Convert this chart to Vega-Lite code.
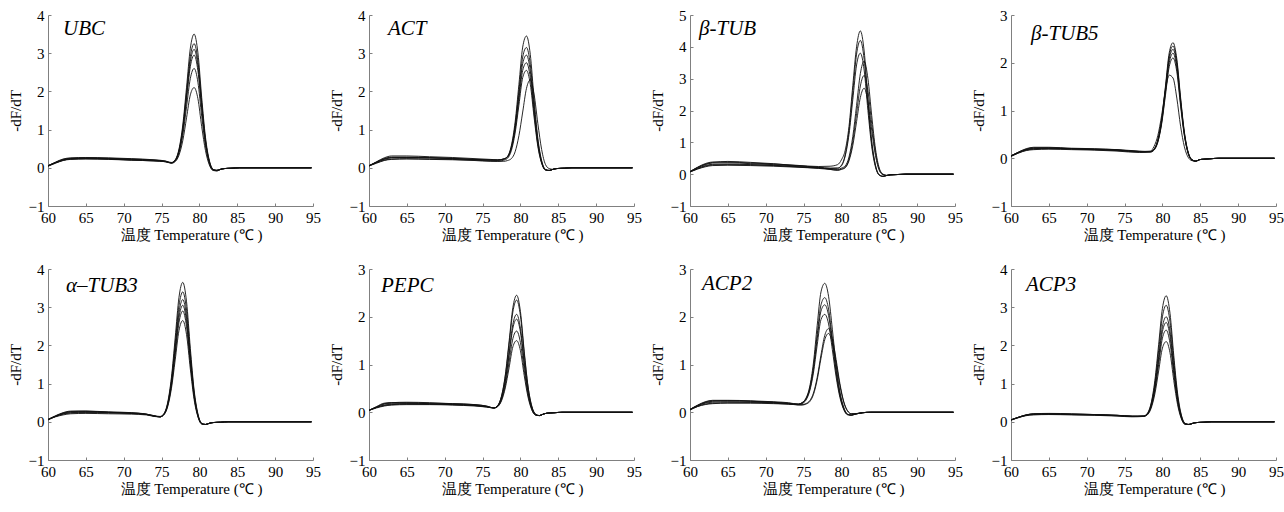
{
"$schema": "https://vega.github.io/schema/vega-lite/v6.json",
"background": "white",
"padding": {"left": 8, "top": 8, "right": 5, "bottom": 5},
"data": {"values": [
{"g":"UBC","t":60,"a":0.05,"b":0.05,"c":0.06,"d":0.04,"e":0.05,"f":0.05},
{"g":"UBC","t":61,"a":0.14,"b":0.15,"c":0.13,"d":0.12,"e":0.14,"f":0.13},
{"g":"UBC","t":62,"a":0.21,"b":0.23,"c":0.2,"d":0.19,"e":0.22,"f":0.2},
{"g":"UBC","t":63,"a":0.24,"b":0.26,"c":0.23,"d":0.22,"e":0.25,"f":0.23},
{"g":"UBC","t":65,"a":0.25,"b":0.27,"c":0.24,"d":0.23,"e":0.26,"f":0.24},
{"g":"UBC","t":68,"a":0.24,"b":0.26,"c":0.23,"d":0.22,"e":0.25,"f":0.23},
{"g":"UBC","t":71,"a":0.22,"b":0.24,"c":0.21,"d":0.2,"e":0.23,"f":0.2},
{"g":"UBC","t":74,"a":0.2,"b":0.21,"c":0.19,"d":0.18,"e":0.2,"f":0.18},
{"g":"UBC","t":75.5,"a":0.17,"b":0.18,"c":0.16,"d":0.16,"e":0.17,"f":0.16},
{"g":"UBC","t":76.3,"a":0.14,"b":0.13,"c":0.13,"d":0.13,"e":0.13,"f":0.12},
{"g":"UBC","t":76.8,"a":0.21,"b":0.2,"c":0.19,"d":0.19,"e":0.18,"f":0.16},
{"g":"UBC","t":77.3,"a":0.49,"b":0.46,"c":0.44,"d":0.42,"e":0.39,"f":0.33},
{"g":"UBC","t":77.8,"a":1.12,"b":1.04,"c":1.0,"d":0.96,"e":0.85,"f":0.71},
{"g":"UBC","t":78.3,"a":2.11,"b":1.97,"c":1.88,"d":1.8,"e":1.6,"f":1.31},
{"g":"UBC","t":78.8,"a":3.13,"b":2.91,"c":2.78,"d":2.65,"e":2.34,"f":1.91},
{"g":"UBC","t":79.3,"a":3.5,"b":3.25,"c":3.1,"d":2.95,"e":2.6,"f":2.1},
{"g":"UBC","t":79.8,"a":3.01,"b":2.8,"c":2.67,"d":2.54,"e":2.24,"f":1.81},
{"g":"UBC","t":80.3,"a":1.84,"b":1.71,"c":1.62,"d":1.54,"e":1.35,"f":1.08},
{"g":"UBC","t":80.8,"a":0.8,"b":0.73,"c":0.7,"d":0.66,"e":0.57,"f":0.45},
{"g":"UBC","t":81.3,"a":0.2,"b":0.18,"c":0.16,"d":0.15,"e":0.12,"f":0.08},
{"g":"UBC","t":81.8,"a":-0.04,"b":-0.04,"c":-0.05,"d":-0.05,"e":-0.06,"f":-0.07},
{"g":"UBC","t":82.3,"a":-0.07,"b":-0.08,"c":-0.07,"d":-0.06,"e":-0.07,"f":-0.08},
{"g":"UBC","t":82.8,"a":-0.04,"b":-0.04,"c":-0.04,"d":-0.04,"e":-0.04,"f":-0.04},
{"g":"UBC","t":83.3,"a":-0.02,"b":-0.02,"c":-0.02,"d":-0.02,"e":-0.02,"f":-0.02},
{"g":"UBC","t":84.3,"a":-0.01,"b":-0.01,"c":-0.01,"d":-0.01,"e":-0.01,"f":-0.01},
{"g":"UBC","t":85.3,"a":0,"b":0,"c":0,"d":0,"e":0,"f":0},
{"g":"UBC","t":94.8,"a":0,"b":0,"c":0,"d":0,"e":0,"f":0},

{"g":"ACT","t":60,"a":0.05,"b":0.05,"c":0.05,"d":0.06,"e":0.05,"f":0.05},
{"g":"ACT","t":61,"a":0.16,"b":0.15,"c":0.14,"d":0.15,"e":0.13,"f":0.12},
{"g":"ACT","t":62,"a":0.26,"b":0.24,"c":0.22,"d":0.23,"e":0.2,"f":0.19},
{"g":"ACT","t":63,"a":0.31,"b":0.28,"c":0.26,"d":0.27,"e":0.23,"f":0.22},
{"g":"ACT","t":65,"a":0.31,"b":0.28,"c":0.27,"d":0.27,"e":0.24,"f":0.23},
{"g":"ACT","t":68,"a":0.29,"b":0.27,"c":0.26,"d":0.26,"e":0.23,"f":0.22},
{"g":"ACT","t":71,"a":0.27,"b":0.25,"c":0.24,"d":0.24,"e":0.22,"f":0.21},
{"g":"ACT","t":74,"a":0.24,"b":0.22,"c":0.22,"d":0.21,"e":0.2,"f":0.19},
{"g":"ACT","t":76,"a":0.22,"b":0.21,"c":0.2,"d":0.2,"e":0.18,"f":0.17},
{"g":"ACT","t":77,"a":0.21,"b":0.2,"c":0.2,"d":0.2,"e":0.17,"f":0.17},
{"g":"ACT","t":77.8,"a":0.23,"b":0.23,"c":0.23,"d":0.23,"e":0.2,"f":0.17},
{"g":"ACT","t":78.3,"a":0.3,"b":0.29,"c":0.29,"d":0.28,"e":0.25,"f":0.19},
{"g":"ACT","t":78.8,"a":0.58,"b":0.55,"c":0.52,"d":0.5,"e":0.45,"f":0.24},
{"g":"ACT","t":79.3,"a":1.2,"b":1.11,"c":1.06,"d":1.0,"e":0.91,"f":0.42},
{"g":"ACT","t":79.8,"a":2.18,"b":2.01,"c":1.9,"d":1.78,"e":1.64,"f":0.84},
{"g":"ACT","t":80.3,"a":3.16,"b":2.9,"c":2.73,"d":2.55,"e":2.36,"f":1.46},
{"g":"ACT","t":80.8,"a":3.45,"b":3.15,"c":2.95,"d":2.75,"e":2.55,"f":2.08},
{"g":"ACT","t":81.3,"a":2.97,"b":2.71,"c":2.54,"d":2.37,"e":2.19,"f":2.3},
{"g":"ACT","t":81.8,"a":1.81,"b":1.65,"c":1.54,"d":1.44,"e":1.33,"f":1.93},
{"g":"ACT","t":82.3,"a":0.78,"b":0.71,"c":0.66,"d":0.61,"e":0.56,"f":1.16},
{"g":"ACT","t":82.8,"a":0.19,"b":0.17,"c":0.15,"d":0.13,"e":0.12,"f":0.48},
{"g":"ACT","t":83.3,"a":-0.04,"b":-0.05,"c":-0.05,"d":-0.05,"e":-0.06,"f":0.09},
{"g":"ACT","t":83.8,"a":-0.07,"b":-0.07,"c":-0.07,"d":-0.07,"e":-0.07,"f":-0.02},
{"g":"ACT","t":84.3,"a":-0.04,"b":-0.04,"c":-0.04,"d":-0.04,"e":-0.04,"f":-0.04},
{"g":"ACT","t":84.8,"a":-0.02,"b":-0.02,"c":-0.02,"d":-0.02,"e":-0.02,"f":-0.02},
{"g":"ACT","t":85.8,"a":-0.01,"b":-0.01,"c":-0.01,"d":-0.01,"e":-0.01,"f":-0.01},
{"g":"ACT","t":86.8,"a":0,"b":0,"c":0,"d":0,"e":0,"f":0},
{"g":"ACT","t":94.8,"a":0,"b":0,"c":0,"d":0,"e":0,"f":0},

{"g":"BTUB","t":60,"a":0.08,"b":0.08,"c":0.08,"d":0.07,"e":0.07,"f":0.08},
{"g":"BTUB","t":61,"a":0.22,"b":0.2,"c":0.18,"d":0.17,"e":0.16,"f":0.21},
{"g":"BTUB","t":62,"a":0.33,"b":0.3,"c":0.27,"d":0.25,"e":0.23,"f":0.31},
{"g":"BTUB","t":63,"a":0.38,"b":0.35,"c":0.31,"d":0.29,"e":0.27,"f":0.37},
{"g":"BTUB","t":65,"a":0.38,"b":0.36,"c":0.32,"d":0.3,"e":0.28,"f":0.4},
{"g":"BTUB","t":68,"a":0.35,"b":0.33,"c":0.3,"d":0.29,"e":0.27,"f":0.37},
{"g":"BTUB","t":71,"a":0.32,"b":0.3,"c":0.28,"d":0.27,"e":0.25,"f":0.33},
{"g":"BTUB","t":74,"a":0.28,"b":0.26,"c":0.24,"d":0.23,"e":0.22,"f":0.27},
{"g":"BTUB","t":77,"a":0.24,"b":0.22,"c":0.2,"d":0.19,"e":0.18,"f":0.21},
{"g":"BTUB","t":78.5,"a":0.25,"b":0.19,"c":0.18,"d":0.17,"e":0.15,"f":0.15},
{"g":"BTUB","t":79.5,"a":0.3,"b":0.19,"c":0.19,"d":0.15,"e":0.13,"f":0.12},
{"g":"BTUB","t":80,"a":0.45,"b":0.28,"c":0.26,"d":0.19,"e":0.16,"f":0.15},
{"g":"BTUB","t":80.5,"a":0.75,"b":0.61,"c":0.57,"d":0.26,"e":0.22,"f":0.2},
{"g":"BTUB","t":81,"a":1.5,"b":1.37,"c":1.25,"d":0.54,"e":0.47,"f":0.42},
{"g":"BTUB","t":81.5,"a":2.78,"b":2.57,"c":2.34,"d":1.18,"e":1.03,"f":0.9},
{"g":"BTUB","t":82,"a":4.0,"b":3.77,"c":3.43,"d":2.16,"e":1.9,"f":1.65},
{"g":"BTUB","t":82.5,"a":4.5,"b":4.2,"c":3.8,"d":3.16,"e":2.77,"f":2.41},
{"g":"BTUB","t":83,"a":3.87,"b":3.61,"c":3.27,"d":3.55,"e":3.1,"f":2.7},
{"g":"BTUB","t":83.5,"a":2.38,"b":2.22,"c":2.0,"d":3.0,"e":2.62,"f":2.27},
{"g":"BTUB","t":84,"a":1.05,"b":0.97,"c":0.87,"d":1.84,"e":1.59,"f":1.38},
{"g":"BTUB","t":84.5,"a":0.28,"b":0.26,"c":0.22,"d":0.79,"e":0.68,"f":0.58},
{"g":"BTUB","t":85,"a":-0.02,"b":-0.03,"c":-0.03,"d":0.19,"e":0.15,"f":0.12},
{"g":"BTUB","t":85.5,"a":-0.07,"b":-0.07,"c":-0.07,"d":0,"e":-0.01,"f":-0.02},
{"g":"BTUB","t":86,"a":-0.04,"b":-0.04,"c":-0.04,"d":-0.04,"e":-0.04,"f":-0.04},
{"g":"BTUB","t":86.5,"a":-0.02,"b":-0.02,"c":-0.02,"d":-0.02,"e":-0.02,"f":-0.02},
{"g":"BTUB","t":87.5,"a":-0.01,"b":-0.01,"c":-0.01,"d":-0.01,"e":-0.01,"f":-0.01},
{"g":"BTUB","t":88.5,"a":0,"b":0,"c":0,"d":0,"e":0,"f":0},
{"g":"BTUB","t":94.8,"a":0,"b":0,"c":0,"d":0,"e":0,"f":0},

{"g":"BTUB5","t":60,"a":0.05,"b":0.05,"c":0.04,"d":0.05,"e":0.04,"f":0.05},
{"g":"BTUB5","t":61,"a":0.13,"b":0.12,"c":0.11,"d":0.12,"e":0.11,"f":0.13},
{"g":"BTUB5","t":62,"a":0.19,"b":0.18,"c":0.17,"d":0.18,"e":0.16,"f":0.2},
{"g":"BTUB5","t":63,"a":0.22,"b":0.2,"c":0.19,"d":0.21,"e":0.18,"f":0.23},
{"g":"BTUB5","t":65,"a":0.22,"b":0.21,"c":0.2,"d":0.21,"e":0.19,"f":0.23},
{"g":"BTUB5","t":68,"a":0.2,"b":0.2,"c":0.19,"d":0.2,"e":0.18,"f":0.21},
{"g":"BTUB5","t":71,"a":0.19,"b":0.18,"c":0.18,"d":0.19,"e":0.17,"f":0.2},
{"g":"BTUB5","t":74,"a":0.18,"b":0.17,"c":0.16,"d":0.17,"e":0.15,"f":0.18},
{"g":"BTUB5","t":77,"a":0.15,"b":0.14,"c":0.13,"d":0.14,"e":0.12,"f":0.14},
{"g":"BTUB5","t":78.4,"a":0.14,"b":0.14,"c":0.14,"d":0.13,"e":0.13,"f":0.15},
{"g":"BTUB5","t":78.9,"a":0.19,"b":0.19,"c":0.19,"d":0.18,"e":0.17,"f":0.25},
{"g":"BTUB5","t":79.4,"a":0.39,"b":0.38,"c":0.37,"d":0.35,"e":0.34,"f":0.48},
{"g":"BTUB5","t":79.9,"a":0.82,"b":0.8,"c":0.78,"d":0.75,"e":0.72,"f":0.9},
{"g":"BTUB5","t":80.4,"a":1.51,"b":1.47,"c":1.43,"d":1.38,"e":1.32,"f":1.42},
{"g":"BTUB5","t":80.9,"a":2.21,"b":2.14,"c":2.08,"d":2.0,"e":1.92,"f":1.74},
{"g":"BTUB5","t":81.4,"a":2.42,"b":2.35,"c":2.28,"d":2.2,"e":2.1,"f":1.68},
{"g":"BTUB5","t":81.9,"a":2.08,"b":2.02,"c":1.96,"d":1.89,"e":1.81,"f":1.26},
{"g":"BTUB5","t":82.4,"a":1.27,"b":1.23,"c":1.19,"d":1.15,"e":1.09,"f":0.67},
{"g":"BTUB5","t":82.9,"a":0.55,"b":0.53,"c":0.51,"d":0.49,"e":0.47,"f":0.24},
{"g":"BTUB5","t":83.4,"a":0.13,"b":0.12,"c":0.11,"d":0.11,"e":0.1,"f":0.02},
{"g":"BTUB5","t":83.9,"a":-0.03,"b":-0.03,"c":-0.03,"d":-0.04,"e":-0.04,"f":-0.05},
{"g":"BTUB5","t":84.4,"a":-0.06,"b":-0.06,"c":-0.06,"d":-0.06,"e":-0.06,"f":-0.06},
{"g":"BTUB5","t":84.9,"a":-0.03,"b":-0.03,"c":-0.03,"d":-0.03,"e":-0.03,"f":-0.03},
{"g":"BTUB5","t":85.4,"a":-0.02,"b":-0.02,"c":-0.02,"d":-0.02,"e":-0.02,"f":-0.02},
{"g":"BTUB5","t":86.4,"a":-0.01,"b":-0.01,"c":-0.01,"d":-0.01,"e":-0.01,"f":-0.01},
{"g":"BTUB5","t":87.4,"a":0,"b":0,"c":0,"d":0,"e":0,"f":0},
{"g":"BTUB5","t":94.8,"a":0,"b":0,"c":0,"d":0,"e":0,"f":0},

{"g":"ATUB3","t":60,"a":0.06,"b":0.06,"c":0.05,"d":0.06,"e":0.05,"f":0.06},
{"g":"ATUB3","t":61,"a":0.16,"b":0.15,"c":0.14,"d":0.13,"e":0.14,"f":0.15},
{"g":"ATUB3","t":62,"a":0.24,"b":0.22,"c":0.2,"d":0.18,"e":0.21,"f":0.23},
{"g":"ATUB3","t":63,"a":0.28,"b":0.26,"c":0.23,"d":0.21,"e":0.24,"f":0.27},
{"g":"ATUB3","t":65,"a":0.28,"b":0.27,"c":0.24,"d":0.22,"e":0.25,"f":0.28},
{"g":"ATUB3","t":68,"a":0.25,"b":0.25,"c":0.23,"d":0.21,"e":0.24,"f":0.26},
{"g":"ATUB3","t":71,"a":0.23,"b":0.22,"c":0.22,"d":0.2,"e":0.23,"f":0.24},
{"g":"ATUB3","t":73,"a":0.2,"b":0.19,"c":0.19,"d":0.18,"e":0.2,"f":0.2},
{"g":"ATUB3","t":74,"a":0.16,"b":0.15,"c":0.15,"d":0.14,"e":0.16,"f":0.15},
{"g":"ATUB3","t":74.8,"a":0.14,"b":0.13,"c":0.13,"d":0.13,"e":0.13,"f":0.13},
{"g":"ATUB3","t":75.3,"a":0.21,"b":0.2,"c":0.2,"d":0.19,"e":0.19,"f":0.18},
{"g":"ATUB3","t":75.8,"a":0.5,"b":0.47,"c":0.45,"d":0.44,"e":0.42,"f":0.39},
{"g":"ATUB3","t":76.3,"a":1.16,"b":1.09,"c":1.03,"d":0.98,"e":0.94,"f":0.87},
{"g":"ATUB3","t":76.8,"a":2.2,"b":2.06,"c":1.94,"d":1.85,"e":1.77,"f":1.62},
{"g":"ATUB3","t":77.3,"a":3.26,"b":3.04,"c":2.86,"d":2.73,"e":2.6,"f":2.39},
{"g":"ATUB3","t":77.8,"a":3.65,"b":3.4,"c":3.2,"d":3.05,"e":2.9,"f":2.65},
{"g":"ATUB3","t":78.3,"a":3.14,"b":2.92,"c":2.75,"d":2.62,"e":2.49,"f":2.28},
{"g":"ATUB3","t":78.8,"a":1.92,"b":1.79,"c":1.68,"d":1.6,"e":1.52,"f":1.38},
{"g":"ATUB3","t":79.3,"a":0.83,"b":0.77,"c":0.72,"d":0.68,"e":0.65,"f":0.58},
{"g":"ATUB3","t":79.8,"a":0.21,"b":0.19,"c":0.17,"d":0.16,"e":0.15,"f":0.13},
{"g":"ATUB3","t":80.3,"a":-0.04,"b":-0.04,"c":-0.05,"d":-0.05,"e":-0.05,"f":-0.06},
{"g":"ATUB3","t":80.8,"a":-0.07,"b":-0.07,"c":-0.07,"d":-0.07,"e":-0.07,"f":-0.07},
{"g":"ATUB3","t":81.3,"a":-0.04,"b":-0.04,"c":-0.04,"d":-0.04,"e":-0.04,"f":-0.04},
{"g":"ATUB3","t":81.8,"a":-0.02,"b":-0.02,"c":-0.02,"d":-0.02,"e":-0.02,"f":-0.02},
{"g":"ATUB3","t":82.8,"a":-0.01,"b":-0.01,"c":-0.01,"d":-0.01,"e":-0.01,"f":-0.01},
{"g":"ATUB3","t":83.8,"a":0,"b":0,"c":0,"d":0,"e":0,"f":0},
{"g":"ATUB3","t":94.8,"a":0,"b":0,"c":0,"d":0,"e":0,"f":0},

{"g":"PEPC","t":60,"a":0.04,"b":0.04,"c":0.04,"d":0.04,"e":0.04,"f":0.04},
{"g":"PEPC","t":61,"a":0.12,"b":0.11,"c":0.1,"d":0.09,"e":0.1,"f":0.11},
{"g":"PEPC","t":62,"a":0.19,"b":0.17,"c":0.15,"d":0.13,"e":0.14,"f":0.18},
{"g":"PEPC","t":63,"a":0.2,"b":0.19,"c":0.17,"d":0.15,"e":0.16,"f":0.2},
{"g":"PEPC","t":65,"a":0.2,"b":0.19,"c":0.18,"d":0.16,"e":0.17,"f":0.21},
{"g":"PEPC","t":68,"a":0.19,"b":0.18,"c":0.17,"d":0.16,"e":0.17,"f":0.2},
{"g":"PEPC","t":71,"a":0.18,"b":0.17,"c":0.16,"d":0.15,"e":0.16,"f":0.18},
{"g":"PEPC","t":74,"a":0.16,"b":0.15,"c":0.14,"d":0.13,"e":0.14,"f":0.16},
{"g":"PEPC","t":75.5,"a":0.13,"b":0.12,"c":0.12,"d":0.11,"e":0.11,"f":0.13},
{"g":"PEPC","t":76.5,"a":0.09,"b":0.09,"c":0.09,"d":0.09,"e":0.09,"f":0.09},
{"g":"PEPC","t":77,"a":0.14,"b":0.14,"c":0.13,"d":0.13,"e":0.12,"f":0.12},
{"g":"PEPC","t":77.5,"a":0.34,"b":0.33,"c":0.3,"d":0.28,"e":0.26,"f":0.24},
{"g":"PEPC","t":78,"a":0.78,"b":0.75,"c":0.66,"d":0.64,"e":0.56,"f":0.51},
{"g":"PEPC","t":78.5,"a":1.48,"b":1.42,"c":1.25,"d":1.19,"e":1.05,"f":0.93},
{"g":"PEPC","t":79,"a":2.19,"b":2.1,"c":1.84,"d":1.76,"e":1.54,"f":1.37},
{"g":"PEPC","t":79.5,"a":2.45,"b":2.35,"c":2.05,"d":1.95,"e":1.7,"f":1.5},
{"g":"PEPC","t":80,"a":2.11,"b":2.02,"c":1.76,"d":1.68,"e":1.46,"f":1.29},
{"g":"PEPC","t":80.5,"a":1.28,"b":1.23,"c":1.07,"d":1.01,"e":0.88,"f":0.77},
{"g":"PEPC","t":81,"a":0.55,"b":0.53,"c":0.45,"d":0.43,"e":0.37,"f":0.32},
{"g":"PEPC","t":81.5,"a":0.13,"b":0.12,"c":0.09,"d":0.09,"e":0.06,"f":0.05},
{"g":"PEPC","t":82,"a":-0.04,"b":-0.04,"c":-0.05,"d":-0.05,"e":-0.06,"f":-0.06},
{"g":"PEPC","t":82.5,"a":-0.07,"b":-0.07,"c":-0.07,"d":-0.07,"e":-0.07,"f":-0.07},
{"g":"PEPC","t":83,"a":-0.04,"b":-0.04,"c":-0.04,"d":-0.04,"e":-0.04,"f":-0.04},
{"g":"PEPC","t":83.5,"a":-0.02,"b":-0.02,"c":-0.02,"d":-0.02,"e":-0.02,"f":-0.02},
{"g":"PEPC","t":84.5,"a":-0.01,"b":-0.01,"c":-0.01,"d":-0.01,"e":-0.01,"f":-0.01},
{"g":"PEPC","t":85.5,"a":0,"b":0,"c":0,"d":0,"e":0,"f":0},
{"g":"PEPC","t":94.8,"a":0,"b":0,"c":0,"d":0,"e":0,"f":0},

{"g":"ACP2","t":60,"a":0.06,"b":0.06,"c":0.05,"d":0.05,"e":0.05,"f":0.06},
{"g":"ACP2","t":61,"a":0.15,"b":0.14,"c":0.13,"d":0.12,"e":0.12,"f":0.14},
{"g":"ACP2","t":62,"a":0.22,"b":0.2,"c":0.19,"d":0.17,"e":0.16,"f":0.21},
{"g":"ACP2","t":63,"a":0.25,"b":0.23,"c":0.21,"d":0.19,"e":0.18,"f":0.24},
{"g":"ACP2","t":65,"a":0.25,"b":0.24,"c":0.22,"d":0.2,"e":0.19,"f":0.24},
{"g":"ACP2","t":68,"a":0.24,"b":0.23,"c":0.21,"d":0.2,"e":0.19,"f":0.23},
{"g":"ACP2","t":71,"a":0.22,"b":0.21,"c":0.2,"d":0.19,"e":0.18,"f":0.21},
{"g":"ACP2","t":73,"a":0.2,"b":0.19,"c":0.18,"d":0.17,"e":0.17,"f":0.18},
{"g":"ACP2","t":74.3,"a":0.17,"b":0.17,"c":0.17,"d":0.16,"e":0.16,"f":0.15},
{"g":"ACP2","t":74.8,"a":0.2,"b":0.2,"c":0.19,"d":0.18,"e":0.16,"f":0.15},
{"g":"ACP2","t":75.3,"a":0.29,"b":0.28,"c":0.27,"d":0.25,"e":0.18,"f":0.17},
{"g":"ACP2","t":75.8,"a":0.53,"b":0.49,"c":0.47,"d":0.44,"e":0.24,"f":0.22},
{"g":"ACP2","t":76.3,"a":1.03,"b":0.94,"c":0.89,"d":0.82,"e":0.4,"f":0.37},
{"g":"ACP2","t":76.8,"a":1.82,"b":1.63,"c":1.54,"d":1.41,"e":0.73,"f":0.68},
{"g":"ACP2","t":77.3,"a":2.52,"b":2.25,"c":2.12,"d":1.94,"e":1.2,"f":1.13},
{"g":"ACP2","t":77.8,"a":2.7,"b":2.4,"c":2.25,"d":2.05,"e":1.61,"f":1.52},
{"g":"ACP2","t":78.3,"a":2.43,"b":2.16,"c":2.03,"d":1.85,"e":1.75,"f":1.65},
{"g":"ACP2","t":78.8,"a":1.74,"b":1.54,"c":1.45,"d":1.31,"e":1.54,"f":1.45},
{"g":"ACP2","t":79.3,"a":0.99,"b":0.88,"c":0.82,"d":0.74,"e":1.1,"f":1.03},
{"g":"ACP2","t":79.8,"a":0.43,"b":0.38,"c":0.35,"d":0.31,"e":0.6,"f":0.56},
{"g":"ACP2","t":80.3,"a":0.11,"b":0.08,"c":0.07,"d":0.06,"e":0.23,"f":0.21},
{"g":"ACP2","t":80.8,"a":-0.04,"b":-0.04,"c":-0.05,"d":-0.05,"e":0.03,"f":0.03},
{"g":"ACP2","t":81.3,"a":-0.06,"b":-0.06,"c":-0.06,"d":-0.06,"e":-0.03,"f":-0.03},
{"g":"ACP2","t":81.8,"a":-0.04,"b":-0.04,"c":-0.04,"d":-0.04,"e":-0.03,"f":-0.03},
{"g":"ACP2","t":82.8,"a":-0.01,"b":-0.01,"c":-0.01,"d":-0.01,"e":-0.01,"f":-0.01},
{"g":"ACP2","t":83.8,"a":0,"b":0,"c":0,"d":0,"e":0,"f":0},
{"g":"ACP2","t":94.8,"a":0,"b":0,"c":0,"d":0,"e":0,"f":0},

{"g":"ACP3","t":60,"a":0.05,"b":0.05,"c":0.05,"d":0.05,"e":0.04,"f":0.05},
{"g":"ACP3","t":61,"a":0.12,"b":0.12,"c":0.11,"d":0.12,"e":0.11,"f":0.12},
{"g":"ACP3","t":62,"a":0.18,"b":0.17,"c":0.17,"d":0.18,"e":0.16,"f":0.18},
{"g":"ACP3","t":63,"a":0.21,"b":0.2,"c":0.19,"d":0.2,"e":0.18,"f":0.21},
{"g":"ACP3","t":65,"a":0.21,"b":0.2,"c":0.2,"d":0.21,"e":0.19,"f":0.22},
{"g":"ACP3","t":68,"a":0.2,"b":0.19,"c":0.19,"d":0.2,"e":0.18,"f":0.21},
{"g":"ACP3","t":71,"a":0.19,"b":0.18,"c":0.18,"d":0.19,"e":0.17,"f":0.19},
{"g":"ACP3","t":74,"a":0.17,"b":0.16,"c":0.16,"d":0.17,"e":0.15,"f":0.17},
{"g":"ACP3","t":76,"a":0.15,"b":0.14,"c":0.14,"d":0.14,"e":0.13,"f":0.15},
{"g":"ACP3","t":77.5,"a":0.15,"b":0.15,"c":0.15,"d":0.15,"e":0.14,"f":0.14},
{"g":"ACP3","t":78,"a":0.22,"b":0.21,"c":0.2,"d":0.2,"e":0.19,"f":0.18},
{"g":"ACP3","t":78.5,"a":0.48,"b":0.46,"c":0.42,"d":0.41,"e":0.38,"f":0.35},
{"g":"ACP3","t":79,"a":1.08,"b":1.0,"c":0.92,"d":0.87,"e":0.82,"f":0.73},
{"g":"ACP3","t":79.5,"a":2.02,"b":1.87,"c":1.7,"d":1.62,"e":1.5,"f":1.33},
{"g":"ACP3","t":80,"a":2.97,"b":2.75,"c":2.49,"d":2.36,"e":2.19,"f":1.93},
{"g":"ACP3","t":80.5,"a":3.3,"b":3.05,"c":2.75,"d":2.6,"e":2.4,"f":2.1},
{"g":"ACP3","t":81,"a":2.84,"b":2.62,"c":2.37,"d":2.24,"e":2.06,"f":1.81},
{"g":"ACP3","t":81.5,"a":1.73,"b":1.6,"c":1.44,"d":1.35,"e":1.25,"f":1.08},
{"g":"ACP3","t":82,"a":0.75,"b":0.68,"c":0.61,"d":0.57,"e":0.52,"f":0.45},
{"g":"ACP3","t":82.5,"a":0.18,"b":0.16,"c":0.13,"d":0.12,"e":0.1,"f":0.08},
{"g":"ACP3","t":83,"a":-0.04,"b":-0.05,"c":-0.05,"d":-0.06,"e":-0.06,"f":-0.07},
{"g":"ACP3","t":83.5,"a":-0.07,"b":-0.07,"c":-0.07,"d":-0.07,"e":-0.07,"f":-0.07},
{"g":"ACP3","t":84,"a":-0.04,"b":-0.04,"c":-0.04,"d":-0.04,"e":-0.04,"f":-0.04},
{"g":"ACP3","t":84.5,"a":-0.02,"b":-0.02,"c":-0.02,"d":-0.02,"e":-0.02,"f":-0.02},
{"g":"ACP3","t":85.5,"a":-0.01,"b":-0.01,"c":-0.01,"d":-0.01,"e":-0.01,"f":-0.01},
{"g":"ACP3","t":86.5,"a":0,"b":0,"c":0,"d":0,"e":0,"f":0},
{"g":"ACP3","t":94.8,"a":0,"b":0,"c":0,"d":0,"e":0,"f":0}
]},
"columns": 4,
"spacing": {"row": 63, "column": 56},
"bounds": "flush",
"concat": [
{"width":265,"height":191,"layer":[
 {"transform":[{"filter":"datum.g==='UBC'"},{"fold":["a","b","c","d","e","f"],"as":["s","v"]}],
  "mark":{"type":"line","interpolate":"monotone","color":"#111","strokeWidth":0.9},
  "encoding":{"x":{"field":"t","type":"quantitative","scale":{"domain":[60,95],"nice":false,"zero":false},"axis":{"values":[60,65,70,75,80,85,90,95],"tickCount":20,"format":"d","labelOverlap":false,"title":"温度 Temperature (℃ )"}},
   "y":{"field":"v","type":"quantitative","scale":{"domain":[-1,4],"nice":false},"axis":{"values":[-1,0,1,2,3,4],"tickCount":20,"format":"d","labelOverlap":false,"title":"-dF/dT"}},
   "detail":{"field":"s"}}},
 {"data":{"values":[{"label":"UBC"}]},"mark":{"type":"text","font":"Liberation Serif","fontStyle":"italic","fontSize":21,"align":"left","baseline":"alphabetic","dx":15,"dy":20,"color":"#000"},
  "encoding":{"text":{"field":"label"},"x":{"datum":60},"y":{"datum":4}}}
]},
{"width":265,"height":191,"layer":[
 {"transform":[{"filter":"datum.g==='ACT'"},{"fold":["a","b","c","d","e","f"],"as":["s","v"]}],
  "mark":{"type":"line","interpolate":"monotone","color":"#111","strokeWidth":0.9},
  "encoding":{"x":{"field":"t","type":"quantitative","scale":{"domain":[60,95],"nice":false,"zero":false},"axis":{"values":[60,65,70,75,80,85,90,95],"tickCount":20,"format":"d","labelOverlap":false,"title":"温度 Temperature (℃ )"}},
   "y":{"field":"v","type":"quantitative","scale":{"domain":[-1,4],"nice":false},"axis":{"values":[-1,0,1,2,3,4],"tickCount":20,"format":"d","labelOverlap":false,"title":"-dF/dT"}},
   "detail":{"field":"s"}}},
 {"data":{"values":[{"label":"ACT"}]},"mark":{"type":"text","font":"Liberation Serif","fontStyle":"italic","fontSize":21,"align":"left","baseline":"alphabetic","dx":19,"dy":20,"color":"#000"},
  "encoding":{"text":{"field":"label"},"x":{"datum":60},"y":{"datum":4}}}
]},
{"width":265,"height":191,"layer":[
 {"transform":[{"filter":"datum.g==='BTUB'"},{"fold":["a","b","c","d","e","f"],"as":["s","v"]}],
  "mark":{"type":"line","interpolate":"monotone","color":"#111","strokeWidth":0.9},
  "encoding":{"x":{"field":"t","type":"quantitative","scale":{"domain":[60,95],"nice":false,"zero":false},"axis":{"values":[60,65,70,75,80,85,90,95],"tickCount":20,"format":"d","labelOverlap":false,"title":"温度 Temperature (℃ )"}},
   "y":{"field":"v","type":"quantitative","scale":{"domain":[-1,5],"nice":false},"axis":{"values":[-1,0,1,2,3,4,5],"tickCount":20,"format":"d","labelOverlap":false,"title":"-dF/dT"}},
   "detail":{"field":"s"}}},
 {"data":{"values":[{"label":"β-TUB"}]},"mark":{"type":"text","font":"Liberation Serif","fontStyle":"italic","fontSize":21,"align":"left","baseline":"alphabetic","dx":9,"dy":20,"color":"#000"},
  "encoding":{"text":{"field":"label"},"x":{"datum":60},"y":{"datum":5}}}
]},
{"width":265,"height":191,"layer":[
 {"transform":[{"filter":"datum.g==='BTUB5'"},{"fold":["a","b","c","d","e","f"],"as":["s","v"]}],
  "mark":{"type":"line","interpolate":"monotone","color":"#111","strokeWidth":0.9},
  "encoding":{"x":{"field":"t","type":"quantitative","scale":{"domain":[60,95],"nice":false,"zero":false},"axis":{"values":[60,65,70,75,80,85,90,95],"tickCount":20,"format":"d","labelOverlap":false,"title":"温度 Temperature (℃ )"}},
   "y":{"field":"v","type":"quantitative","scale":{"domain":[-1,3],"nice":false},"axis":{"values":[-1,0,1,2,3],"tickCount":20,"format":"d","labelOverlap":false,"title":"-dF/dT"}},
   "detail":{"field":"s"}}},
 {"data":{"values":[{"label":"β-TUB5"}]},"mark":{"type":"text","font":"Liberation Serif","fontStyle":"italic","fontSize":21,"align":"left","baseline":"alphabetic","dx":20,"dy":25,"color":"#000"},
  "encoding":{"text":{"field":"label"},"x":{"datum":60},"y":{"datum":3}}}
]},
{"width":265,"height":191,"layer":[
 {"transform":[{"filter":"datum.g==='ATUB3'"},{"fold":["a","b","c","d","e","f"],"as":["s","v"]}],
  "mark":{"type":"line","interpolate":"monotone","color":"#111","strokeWidth":0.9},
  "encoding":{"x":{"field":"t","type":"quantitative","scale":{"domain":[60,95],"nice":false,"zero":false},"axis":{"values":[60,65,70,75,80,85,90,95],"tickCount":20,"format":"d","labelOverlap":false,"title":"温度 Temperature (℃ )"}},
   "y":{"field":"v","type":"quantitative","scale":{"domain":[-1,4],"nice":false},"axis":{"values":[-1,0,1,2,3,4],"tickCount":20,"format":"d","labelOverlap":false,"title":"-dF/dT"}},
   "detail":{"field":"s"}}},
 {"data":{"values":[{"label":"α–TUB3"}]},"mark":{"type":"text","font":"Liberation Serif","fontStyle":"italic","fontSize":21,"align":"left","baseline":"alphabetic","dx":18,"dy":23,"color":"#000"},
  "encoding":{"text":{"field":"label"},"x":{"datum":60},"y":{"datum":4}}}
]},
{"width":265,"height":191,"layer":[
 {"transform":[{"filter":"datum.g==='PEPC'"},{"fold":["a","b","c","d","e","f"],"as":["s","v"]}],
  "mark":{"type":"line","interpolate":"monotone","color":"#111","strokeWidth":0.9},
  "encoding":{"x":{"field":"t","type":"quantitative","scale":{"domain":[60,95],"nice":false,"zero":false},"axis":{"values":[60,65,70,75,80,85,90,95],"tickCount":20,"format":"d","labelOverlap":false,"title":"温度 Temperature (℃ )"}},
   "y":{"field":"v","type":"quantitative","scale":{"domain":[-1,3],"nice":false},"axis":{"values":[-1,0,1,2,3],"tickCount":20,"format":"d","labelOverlap":false,"title":"-dF/dT"}},
   "detail":{"field":"s"}}},
 {"data":{"values":[{"label":"PEPC"}]},"mark":{"type":"text","font":"Liberation Serif","fontStyle":"italic","fontSize":21,"align":"left","baseline":"alphabetic","dx":12,"dy":23,"color":"#000"},
  "encoding":{"text":{"field":"label"},"x":{"datum":60},"y":{"datum":3}}}
]},
{"width":265,"height":191,"layer":[
 {"transform":[{"filter":"datum.g==='ACP2'"},{"fold":["a","b","c","d","e","f"],"as":["s","v"]}],
  "mark":{"type":"line","interpolate":"monotone","color":"#111","strokeWidth":0.9},
  "encoding":{"x":{"field":"t","type":"quantitative","scale":{"domain":[60,95],"nice":false,"zero":false},"axis":{"values":[60,65,70,75,80,85,90,95],"tickCount":20,"format":"d","labelOverlap":false,"title":"温度 Temperature (℃ )"}},
   "y":{"field":"v","type":"quantitative","scale":{"domain":[-1,3],"nice":false},"axis":{"values":[-1,0,1,2,3],"tickCount":20,"format":"d","labelOverlap":false,"title":"-dF/dT"}},
   "detail":{"field":"s"}}},
 {"data":{"values":[{"label":"ACP2"}]},"mark":{"type":"text","font":"Liberation Serif","fontStyle":"italic","fontSize":21,"align":"left","baseline":"alphabetic","dx":12,"dy":21,"color":"#000"},
  "encoding":{"text":{"field":"label"},"x":{"datum":60},"y":{"datum":3}}}
]},
{"width":265,"height":191,"layer":[
 {"transform":[{"filter":"datum.g==='ACP3'"},{"fold":["a","b","c","d","e","f"],"as":["s","v"]}],
  "mark":{"type":"line","interpolate":"monotone","color":"#111","strokeWidth":0.9},
  "encoding":{"x":{"field":"t","type":"quantitative","scale":{"domain":[60,95],"nice":false,"zero":false},"axis":{"values":[60,65,70,75,80,85,90,95],"tickCount":20,"format":"d","labelOverlap":false,"title":"温度 Temperature (℃ )"}},
   "y":{"field":"v","type":"quantitative","scale":{"domain":[-1,4],"nice":false},"axis":{"values":[-1,0,1,2,3,4],"tickCount":20,"format":"d","labelOverlap":false,"title":"-dF/dT"}},
   "detail":{"field":"s"}}},
 {"data":{"values":[{"label":"ACP3"}]},"mark":{"type":"text","font":"Liberation Serif","fontStyle":"italic","fontSize":21,"align":"left","baseline":"alphabetic","dx":15,"dy":22,"color":"#000"},
  "encoding":{"text":{"field":"label"},"x":{"datum":60},"y":{"datum":4}}}
]}
],
"config": {
 "view": {"stroke": null},
 "axis": {"grid": false, "domainColor": "#808080", "domainWidth": 1, "tickColor": "#808080", "tickSize": -3, "labelFont": "Liberation Serif", "labelFontSize": 15, "labelColor": "#000", "labelFlush": false, "labelBound": false, "titleFont": "Liberation Serif", "titleFontSize": 15, "titleFontWeight": "normal", "titleColor": "#000"},
 "axisX": {"titleX": 143, "titlePadding": 2, "labelPadding": 7},
 "axisY": {"titlePadding": 5, "labelPadding": 7}
}
}
